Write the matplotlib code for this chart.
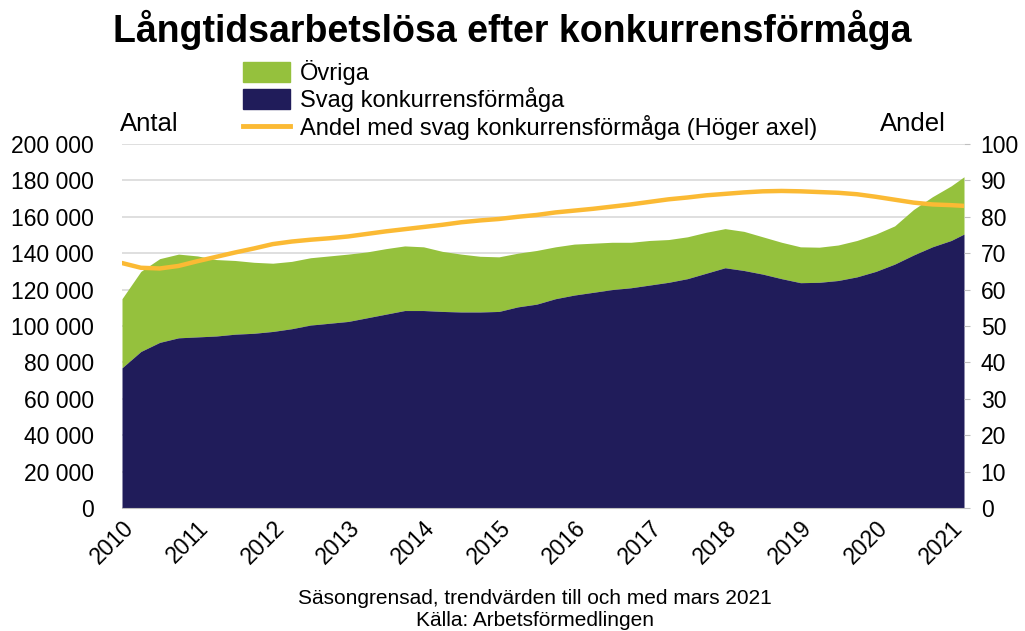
import numpy as np
import matplotlib.pyplot as plt
from matplotlib.patches import Patch
from matplotlib.lines import Line2D
from matplotlib.ticker import FuncFormatter

plt.rcParams['font.family'] = ['Liberation Sans', 'DejaVu Sans']

# time in decimal years (quarterly reading points, Jan 2010 - Mar 2021)
years = [2010.0, 2010.25, 2010.5, 2010.75, 2011.0, 2011.25, 2011.5, 2011.75,
         2012.0, 2012.25, 2012.5, 2012.75, 2013.0, 2013.25, 2013.5, 2013.75,
         2014.0, 2014.25, 2014.5, 2014.75, 2015.0, 2015.25, 2015.5, 2015.75,
         2016.0, 2016.25, 2016.5, 2016.75, 2017.0, 2017.25, 2017.5, 2017.75,
         2018.0, 2018.25, 2018.5, 2018.75, 2019.0, 2019.25, 2019.5, 2019.75,
         2020.0, 2020.25, 2020.5, 2020.75, 2021.0, 2021.17]
# total long-term unemployed (thousands)
total = [115, 130, 137, 139.5, 138.5, 136.5, 136, 135,
         134.5, 135.5, 137.5, 138.5, 139.5, 140.7, 142.5, 144,
         143.5, 141, 139.5, 138.3, 138, 140, 141.5, 143.5,
         145, 145.5, 146, 146, 147, 147.5, 149, 151.5,
         153.5, 152, 149, 146, 143.5, 143.3, 144.5, 147,
         150.5, 155, 164, 171, 177, 182]
# weak competitiveness (thousands)
svag = [77, 86, 91, 93.5, 94, 94.5, 95.5, 96,
        97, 98.5, 100.5, 101.5, 102.5, 104.5, 106.5, 108.5,
        108.5, 108, 107.7, 107.7, 108, 110.5, 112, 115,
        117, 118.5, 120, 121, 122.5, 124, 126, 129,
        132, 130.5, 128.5, 126, 123.8, 124, 125, 127,
        130, 134, 139, 143.5, 147, 150.5]
# share with weak competitiveness (%)
andel = [67.3, 66.0, 65.8, 66.5, 67.8, 69, 70.2, 71.3,
         72.5, 73.2, 73.7, 74.1, 74.6, 75.3, 76, 76.6,
         77.2, 77.8, 78.5, 79, 79.4, 80, 80.5, 81.2,
         81.7, 82.2, 82.8, 83.4, 84.1, 84.8, 85.3, 85.9,
         86.3, 86.7, 87, 87.1, 87, 86.8, 86.6, 86.2,
         85.5, 84.7, 83.9, 83.4, 83.2, 83]

green = '#95C13D'
navy = '#201C5A'
orange = '#FBBA34'

x = np.array(years)
tot = np.array(total) * 1000
sv = np.array(svag) * 1000

fig = plt.figure(figsize=(10.25, 6.31), dpi=100)
ax = fig.add_axes([122/1025, 1-508/631, (964-122)/1025, (508-144)/631])
ax.fill_between(x, sv, tot, color=green, lw=0)
ax.fill_between(x, 0, sv, color=navy, lw=0)
ax.set_xlim(2010, 2021.17)
ax.set_ylim(0, 200000)
ax.set_yticks(range(0, 200001, 20000))
ax.yaxis.set_major_formatter(FuncFormatter(lambda v, p: f'{int(v):,}'.replace(',', ' ')))
ax.set_xticks(range(2010, 2022))
ax.set_xticklabels([str(y) for y in range(2010, 2022)], rotation=45, ha='right',
                   rotation_mode='anchor')
ax.grid(axis='y', color='#D9D9D9', lw=1.2)
ax.set_axisbelow(True)
for s in ['top', 'right', 'left']:
    ax.spines[s].set_visible(False)
ax.spines['bottom'].set_color('#BFBFBF')
ax.tick_params(axis='x', labelsize=16.5, length=0, pad=6)
ax.tick_params(axis='y', labelsize=16.5, length=0, pad=20)

ax2 = ax.twinx()
ax2.plot(x, andel, color=orange, lw=3.2, solid_capstyle='round')
ax2.set_ylim(0, 100)
ax2.set_yticks(range(0, 101, 10))
for s in ['top', 'left', 'bottom', 'right']:
    ax2.spines[s].set_visible(False)
ax2.tick_params(axis='y', labelsize=16.5, length=4, color='#BFBFBF', pad=8)

fig.text(0.5, 0.952, 'Långtidsarbetslösa efter konkurrensförmåga', ha='center',
         va='center', fontsize=27, fontweight='bold')
fig.text(120/1025, 1-124/631, 'Antal', fontsize=18.5, va='center')
fig.text(946/1025, 1-124/631, 'Andel', fontsize=18.5, va='center', ha='right')

handles = [Patch(color=green), Patch(color=navy), Line2D([], [], color=orange, lw=3.5)]
labels = ['Övriga', 'Svag konkurrensförmåga', 'Andel med svag konkurrensförmåga (Höger axel)']
fig.legend(handles, labels, loc='upper left', bbox_to_anchor=(243/1025, 1-60/631),
           frameon=False, fontsize=17, handlelength=2.0, handleheight=0.9,
           labelspacing=0.1, handletextpad=0.4, borderaxespad=0, borderpad=0)

fig.text(535/1025, 1-598/631, 'Säsongrensad, trendvärden till och med mars 2021',
         ha='center', va='center', fontsize=15)
fig.text(535/1025, 1-621/631, 'Källa: Arbetsförmedlingen', ha='center', va='center',
         fontsize=15)

fig.savefig('out.png', dpi=100)
